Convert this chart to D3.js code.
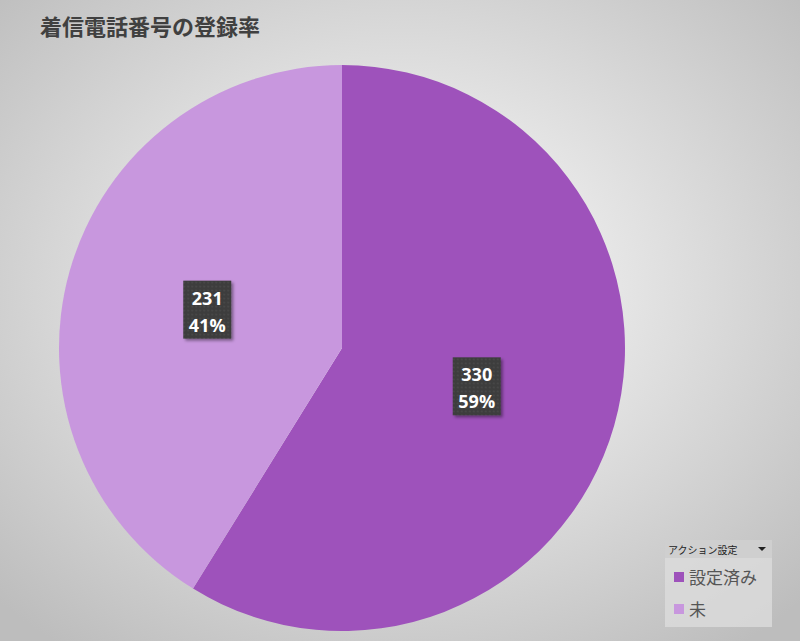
<!DOCTYPE html>
<html><head><meta charset="utf-8">
<script src="https://cdn.jsdelivr.net/npm/d3@7"></script>
<style>body{margin:0}svg{display:block}</style>
</head><body>
<svg id="c" width="800" height="641"></svg>
<script>
const categories = ["設定済み", "未"];
const values = [330, 231];
const colors = ["#9e52bb", "#c897de"];
const title = "着信電話番号の登録率";
const legendTitle = "アクション設定";

const svg = d3.select("#c");
const defs = svg.append("defs");
const rg = defs.append("radialGradient").attr("id","bg").attr("cx","50%").attr("cy","45%").attr("r","70%");
rg.append("stop").attr("offset","0%").attr("stop-color","#ffffff");
rg.append("stop").attr("offset","100%").attr("stop-color","#bdbdbd");
const pat = defs.append("pattern").attr("id","dots").attr("width",4).attr("height",4).attr("patternUnits","userSpaceOnUse");
pat.append("rect").attr("width",4).attr("height",4).attr("fill","#3c3c3c");
pat.append("circle").attr("cx",1).attr("cy",1).attr("r",0.8).attr("fill","#555");
const sh = defs.append("filter").attr("id","sh");
sh.append("feDropShadow").attr("dx",2).attr("dy",2).attr("stdDeviation",1.5).attr("flood-opacity",0.4);

svg.append("rect").attr("width",800).attr("height",641).attr("fill","url(#bg)");
svg.append("text").attr("x",40).attr("y",35).attr("font-family","Noto Sans CJK JP").attr("font-weight","bold")
  .attr("font-size",22).attr("fill","#404040").text(title);

const cx=342, cy=348, r=283;
const pie = d3.pie().sort(null).value(d=>d);
const arcs = pie(values);
const arc = d3.arc().innerRadius(0).outerRadius(r);
const g = svg.append("g").attr("transform",`translate(${cx},${cy})`);
g.selectAll("path").data(arcs).join("path").attr("d",arc).attr("fill",(d,i)=>colors[i]);

const total = d3.sum(values);
const lab = d3.arc().innerRadius(r*0.495).outerRadius(r*0.495);
arcs.forEach((a,i)=>{
  const [x,y]=lab.centroid(a);
  const lg=g.append("g").attr("transform",`translate(${x},${y})`);
  lg.append("rect").attr("x",-24).attr("y",-29).attr("width",48).attr("height",58).attr("fill","url(#dots)").attr("filter","url(#sh)");
  const t=lg.append("text").attr("text-anchor","middle").attr("font-family","Open Sans").attr("font-weight","bold").attr("font-size",18).attr("fill","#fff");
  t.append("tspan").attr("x",0).attr("y",-5).text(values[i]);
  t.append("tspan").attr("x",0).attr("y",22).text(Math.round(values[i]/total*100)+"%");
});

const L = svg.append("g").attr("transform","translate(665,540)");
L.append("rect").attr("width",107).attr("height",87).attr("fill","#dcdcdc").attr("opacity",0.8);
L.append("rect").attr("width",107).attr("height",18).attr("fill","#cfcfcf");
L.append("text").attr("x",3).attr("y",14).attr("font-family","Noto Sans CJK JP").attr("font-size",10).attr("fill","#222").text(legendTitle);
L.append("path").attr("d","M93,7 L101,7 L97,11 Z").attr("fill","#222");
categories.forEach((c,i)=>{
  const y=37+i*32;
  L.append("rect").attr("x",9).attr("y",y-5).attr("width",10).attr("height",10).attr("fill",colors[i]);
  L.append("text").attr("x",24).attr("y",y+7).attr("font-family","Noto Sans CJK JP").attr("font-size",17).attr("fill","#555").text(c);
});
</script>
</body></html>
